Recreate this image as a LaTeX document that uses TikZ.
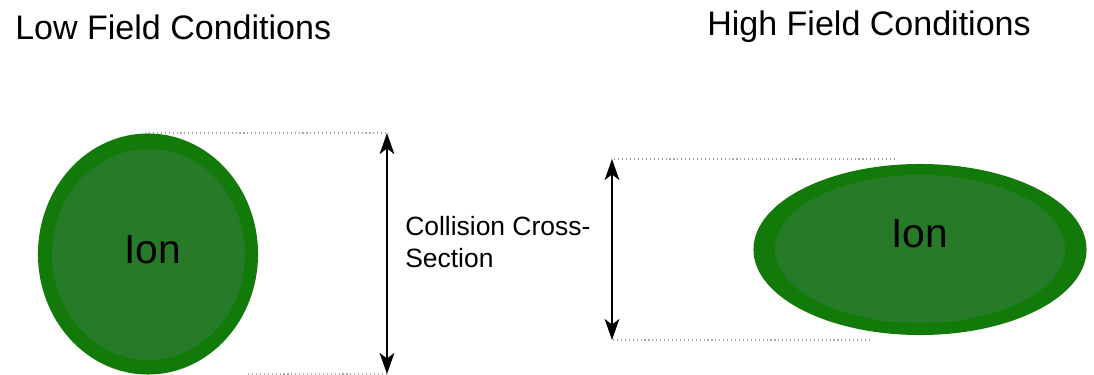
\documentclass[tikz,border=0pt]{standalone}
\usepackage{fontspec}
\setmainfont{Liberation Sans}
\usepackage{xcolor}
\usetikzlibrary{arrows.meta,shapes.geometric}

\definecolor{ionrim}{RGB}{17,122,8}
\definecolor{ionbody}{RGB}{38,122,40}

\tikzset{
  rim/.style={ellipse,fill=ionrim,inner sep=0pt},
  body/.style={ellipse,fill=ionbody,inner sep=0pt},
  title/.style={anchor=west,inner sep=0pt,font=\fontsize{24.2}{29}\selectfont},
  guide/.style={gray!70,dotted,line width=0.8pt},
  span/.style={{Stealth[length=15pt,width=10.5pt,inset=4pt]}-{Stealth[length=15pt,width=10.5pt,inset=4pt]},line width=1pt}
}

\begin{document}
\begin{tikzpicture}[x=0.025cm,y=-0.025cm]
  \useasboundingbox (0,0) rectangle (1094,375);

  \draw (15,27) node[title] (lowtitle) {Low Field Conditions};
  \draw (707,27) node[title] (hightitle) {High Field Conditions};

  \draw (148,254) node[rim,minimum width=5.5cm,minimum height=6.025cm] (lowrim) {};
  \draw (148.5,254.5) node[body,minimum width=4.825cm,minimum height=5.275cm] (lowion) {};
  \draw (153,250) node[font=\fontsize{29}{32}\selectfont] (lowtext) {Ion};

  \draw (920,249.5) node[rim,minimum width=8.325cm,minimum height=4.275cm] (highrim) {};
  \draw (920,249) node[body,minimum width=7.25cm,minimum height=3.7cm] (highion) {};
  \draw (920,234) node[font=\fontsize{29}{32}\selectfont] (hightext) {Ion};

  \coordinate (lowtop) at (145,133);
  \coordinate (lowtopend) at (387,133);
  \coordinate (lowbot) at (248,374);
  \coordinate (lowbotend) at (387,374);
  \coordinate (hightop) at (895,159);
  \coordinate (hightopend) at (612,159);
  \coordinate (highbot) at (870,340);
  \coordinate (highbotend) at (612,340);

  \path[guide] (lowtop) edge (lowtopend);
  \path[guide] (lowbot) edge (lowbotend);
  \path[guide] (hightop) edge (hightopend);
  \path[guide] (highbot) edge (highbotend);

  \path[span] (lowtopend) edge (lowbotend);
  \path[span] (hightopend) edge (highbotend);

  \draw (405,242) node[anchor=west,inner sep=0pt,align=left,font=\fontsize{18.8}{22.6}\selectfont] (ccs) {Collision Cross-\\Section};
\end{tikzpicture}
\end{document}
